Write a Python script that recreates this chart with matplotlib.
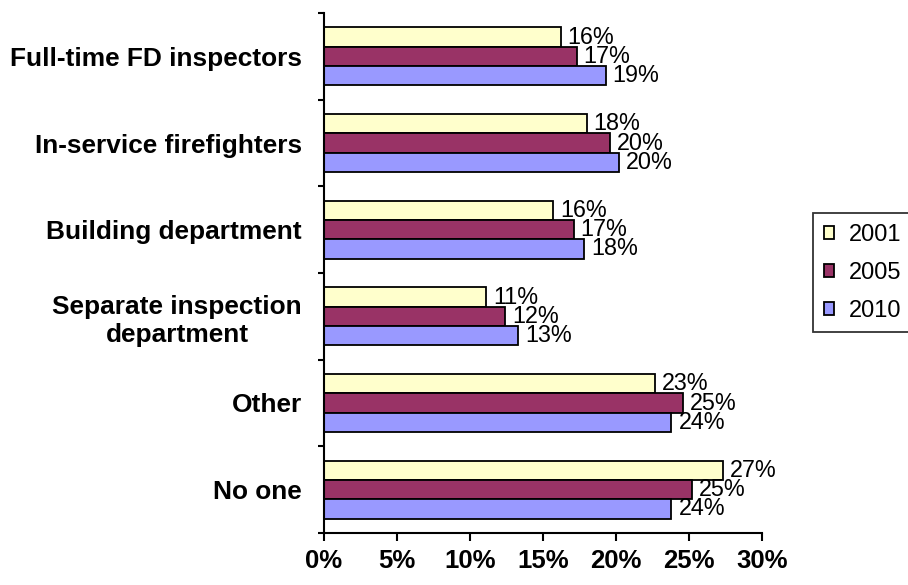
import numpy as np
import matplotlib
matplotlib.use("Agg")
import matplotlib.pyplot as plt

# data
categories = ["Full-time FD inspectors", "In-service firefighters", "Building department",
              "Separate inspection\ndepartment", "Other", "No one"]
years = ["2001", "2005", "2010"]
vals_2001 = [16.2, 18.0, 15.7, 11.1, 22.7, 27.3]
vals_2005 = [17.3, 19.6, 17.1, 12.4, 24.6, 25.2]
vals_2010 = [19.3, 20.2, 17.8, 13.3, 23.8, 23.8]
colors = ["#FFFFCC", "#993366", "#9999FF"]

plt.rcParams['font.family'] = ['Liberation Sans', 'DejaVu Sans']

fig = plt.figure(figsize=(9.08, 5.85), dpi=100)
ax = fig.add_axes([324 / 908, 1 - 533 / 585, (762 - 324) / 908, (533 - 13) / 585])

y = np.arange(len(categories))
h = 0.223
series = [vals_2001, vals_2005, vals_2010]
for i, (vals, col, yr) in enumerate(zip(series, colors, years)):
    bars = ax.barh(y + (i - 1) * h, vals, height=h, color=col, edgecolor="black",
                   linewidth=1.3, label=yr)
    for b, v in zip(bars, vals):
        ax.annotate(f"{v:.0f}%", (b.get_width(), b.get_y() + b.get_height() / 2),
                    xytext=(5, 0), textcoords="offset points", ha="left", va="center",
                    fontsize=16.8, clip_on=False)

ax.set_ylim(len(categories) - 0.5, -0.5)
ax.set_xlim(0, 30)

# x axis
ax.set_xticks(np.arange(0, 31, 5))
ax.set_xticklabels([f"{t}%" for t in range(0, 31, 5)], fontsize=18.5, fontweight="bold")
ax.tick_params(axis="x", direction="out", length=5.5, width=1.5, pad=6)

# y axis: labels at centres, tick marks at group boundaries
ax.set_yticks(y)
ax.set_yticklabels(categories, fontsize=18.9, fontweight="bold", multialignment="center")
ax.tick_params(axis="y", which="major", length=0, pad=16)
ax.set_yticks(np.arange(-0.5, len(categories), 1), minor=True)
ax.tick_params(axis="y", which="minor", direction="out", length=4, width=1.5)

for s in ["top", "right"]:
    ax.spines[s].set_visible(False)
for s in ["left", "bottom"]:
    ax.spines[s].set_linewidth(1.5)

leg = ax.legend(loc="upper left", bbox_to_anchor=(813 / 908, 1 - 213 / 585),
                bbox_transform=fig.transFigure, fontsize=17, frameon=True, fancybox=False,
                handlelength=0.45, handleheight=0.45, handletextpad=0.6,
                borderpad=0.45, labelspacing=0.68, borderaxespad=0)
leg.get_frame().set_edgecolor("black")
leg.get_frame().set_linewidth(1.3)

fig.savefig("out.png", dpi=100)
